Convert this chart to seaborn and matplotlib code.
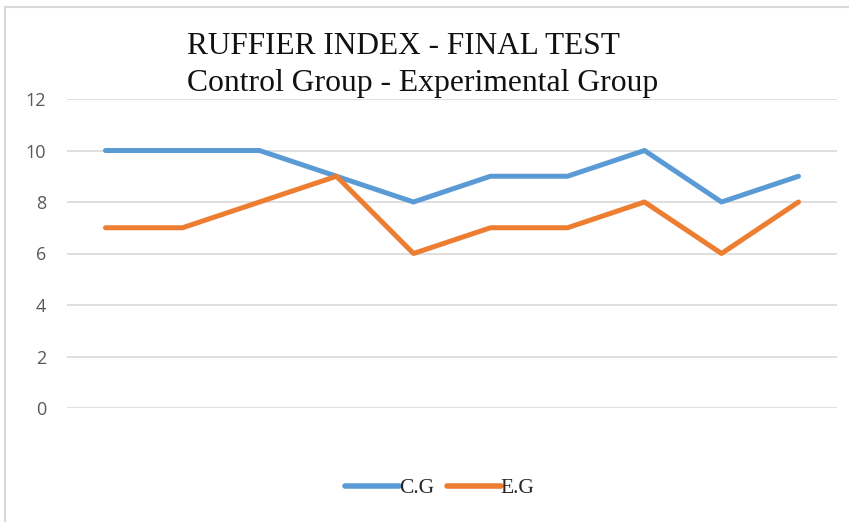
import matplotlib
matplotlib.use("Agg")
import matplotlib.pyplot as plt
import seaborn as sns
import pandas as pd
import numpy as np
from matplotlib.patches import Rectangle
from matplotlib.lines import Line2D

# Data
subjects = list(range(1, 11))
cg_values = [10, 10, 10, 9, 8, 9, 9, 10, 8, 9]
eg_values = [7, 7, 8, 9, 6, 7, 7, 8, 6, 8]
series_names = ["C.G", "E.G"]
y_ticks = [0, 2, 4, 6, 8, 10, 12]
title_line1 = "RUFFIER INDEX - FINAL TEST"
title_line2 = "Control Group - Experimental Group"

colors = {"C.G": "#5B9BD5", "E.G": "#ED7D31"}

df = pd.DataFrame({
    "subject": subjects * 2,
    "value": cg_values + eg_values,
    "group": ["C.G"] * len(cg_values) + ["E.G"] * len(eg_values),
})

sns.set_style("white")
fig = plt.figure(figsize=(8.49, 5.22), dpi=100)
ax = fig.add_axes([67 / 849, (522 - 408) / 522, (837 - 67) / 849, (408 - 99) / 522])

sns.lineplot(data=df, x="subject", y="value", hue="group", palette=colors,
             ax=ax, linewidth=3.6, legend=False, sort=False)
for ln in ax.get_lines():
    ln.set_solid_capstyle("round")
    ln.set_solid_joinstyle("round")

ax.set_xlim(0.5, 10.5)
ax.set_ylim(0, 12)
ax.set_yticks(y_ticks)
ax.set_yticklabels([str(t) for t in y_ticks], fontsize=13, color="#595959",
                   family="Open Sans")
ax.set_xticks([])
ax.set_xlabel("")
ax.set_ylabel("")
ax.tick_params(axis="y", length=0, pad=15)
for s in ax.spines.values():
    s.set_visible(False)
ax.grid(axis="y", color="#D9D9D9", linewidth=1.2)
ax.set_axisbelow(True)

# Figure border
fig.patches.append(Rectangle((5 / 849, -0.1), 1.2, (522 - 7) / 522 + 0.1,
                             transform=fig.transFigure, fill=False,
                             edgecolor="#D9D9D9", linewidth=1.5))

# Title
fig.text(187 / 849, 1 - 46 / 522, title_line1, family="Liberation Serif",
         fontsize=22.5, color="#111111", ha="left", va="center")
fig.text(187 / 849, 1 - 83 / 522, title_line2, family="Liberation Serif",
         fontsize=22.8, color="#111111", ha="left", va="center")

# Legend
handles = [Line2D([0], [0], color=colors[n], linewidth=4.0, solid_capstyle="round")
           for n in series_names]
leg = fig.legend(handles, series_names, loc="center", bbox_to_anchor=(440 / 849, 1 - 488 / 522),
                 ncol=2, frameon=False, prop={"family": "Liberation Serif", "size": 15.5},
                 handlelength=2.5, handletextpad=0.0, columnspacing=0.6)

fig.savefig("out.png", dpi=100)
